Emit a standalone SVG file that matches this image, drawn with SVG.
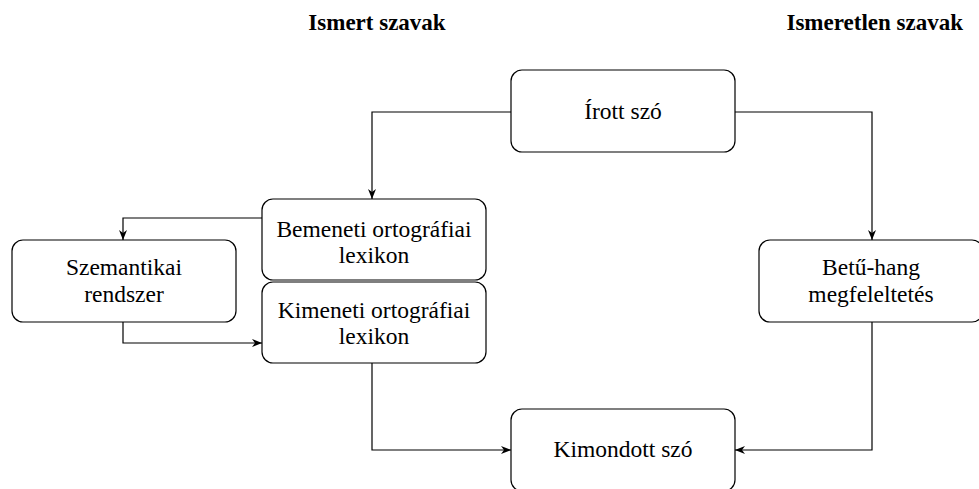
<svg xmlns="http://www.w3.org/2000/svg" width="979" height="489" viewBox="0 0 979 489">
<defs>
<style>
.box{fill:#fff;stroke:#000;stroke-width:1.2}
.t{font-family:'Liberation Serif','DejaVu Serif',serif;font-size:23.5px;fill:#000;text-anchor:middle}
.h{font-family:'Liberation Serif','DejaVu Serif',serif;font-size:23px;font-weight:bold;fill:#000}
.c{fill:none;stroke:#000;stroke-width:1.2}
</style>
<marker id="ar" viewBox="0 0 10 10" refX="10" refY="5" markerWidth="10" markerHeight="10" orient="auto" markerUnits="userSpaceOnUse">
<path d="M0,1 L10,5 L0,9 L3,5 Z" fill="#000"/>
</marker>
</defs>
<rect width="979" height="489" fill="#fff"/>
<text class="h" x="377" y="30" text-anchor="middle">Ismert szavak</text>
<text class="h" x="963" y="30" text-anchor="end">Ismeretlen szavak</text>
<g id="connectors">
<path class="c" d="M511,112 H372 V199" marker-end="url(#ar)"/>
<path class="c" d="M735,112 H872 V240" marker-end="url(#ar)"/>
<path class="c" d="M262,218 H123 V240" marker-end="url(#ar)"/>
<path class="c" d="M123,322 V343 H262" marker-end="url(#ar)"/>
<path class="c" d="M372,363 V450 H511" marker-end="url(#ar)"/>
<path class="c" d="M872,322 V450 H735" marker-end="url(#ar)"/>
</g>
<g id="irott"><rect class="box" x="511" y="70" width="224" height="82" rx="11"/><text class="t" x="623" y="119">Írott szó</text></g>
<g id="bemeneti"><rect class="box" x="262" y="199" width="224" height="81" rx="11"/><text class="t" x="374" y="237">Bemeneti ortográfiai</text><text class="t" x="374" y="263">lexikon</text></g>
<g id="kimeneti"><rect class="box" x="262" y="282" width="224" height="81" rx="11"/><text class="t" x="374" y="318">Kimeneti ortográfiai</text><text class="t" x="374" y="344">lexikon</text></g>
<g id="szemantikai"><rect class="box" x="12" y="240" width="224" height="82" rx="11"/><text class="t" x="124" y="275">Szemantikai</text><text class="t" x="124" y="302">rendszer</text></g>
<g id="betuhang"><rect class="box" x="759" y="240" width="224" height="82" rx="11"/><text class="t" x="871" y="275">Betű-hang</text><text class="t" x="871" y="302">megfeleltetés</text></g>
<g id="kimondott"><rect class="box" x="511" y="409" width="224" height="82" rx="11"/><text class="t" x="623" y="457">Kimondott szó</text></g>
</svg>
